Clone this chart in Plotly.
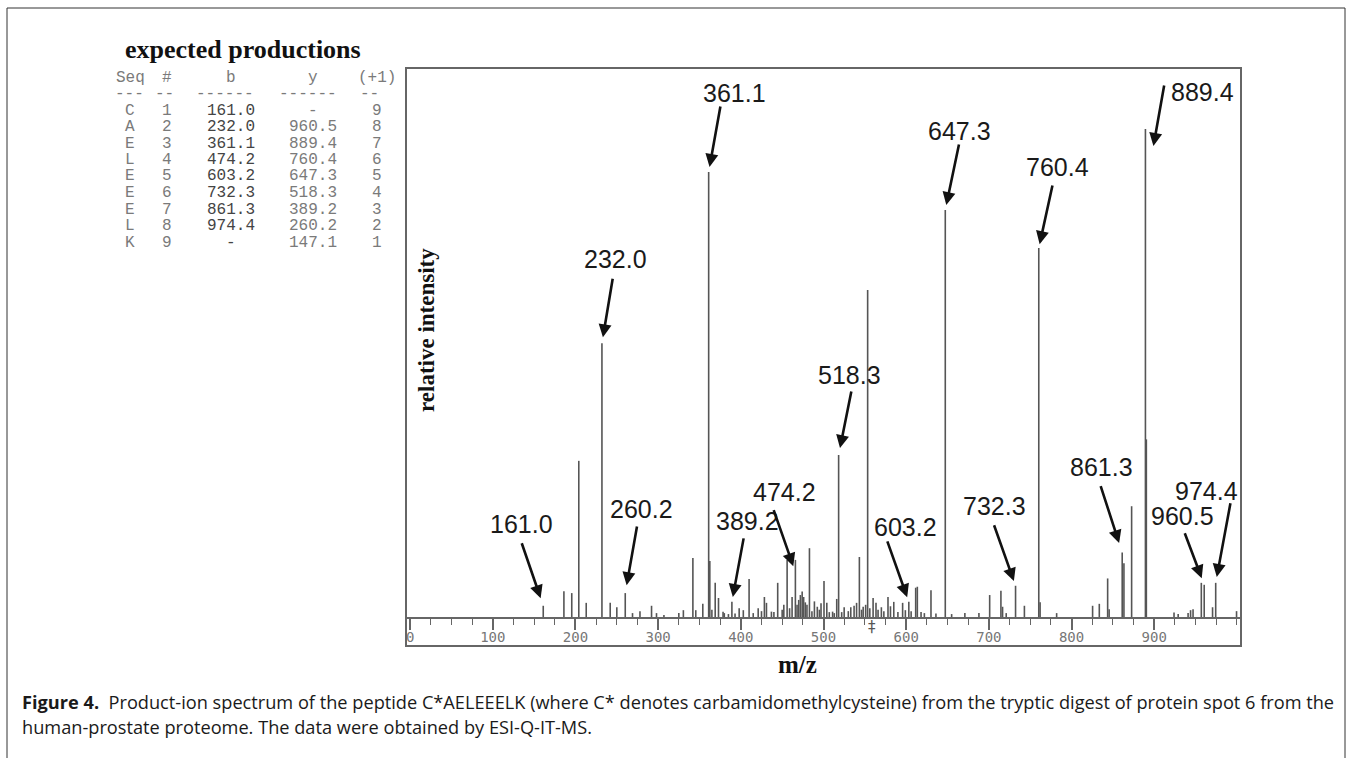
import plotly.graph_objects as go

# ---------------- data ----------------
peak_mz = [161.0, 186.0, 195.5, 204.0, 213.0, 232.0, 242.0, 250.0, 260.2, 269.0,
           278.0, 292.0, 298.0, 307.0, 325.0, 330.5, 342.0, 345.5, 354.0, 361.1,
           362.5, 365.0, 369.0, 373.0, 378.5, 380.0, 385.0, 389.2, 393.0, 398.0,
           403.0, 410.0, 415.0, 421.0, 425.0, 428.5, 431.0, 437.0, 440.0, 444.6,
           450.0, 452.0, 456.0, 459.0, 462.0, 466.0, 468.0, 470.0, 472.0, 474.2,
           476.0, 478.0, 480.0, 483.0, 486.0, 489.0, 492.5, 495.0, 497.0, 500.6,
           504.0, 507.0, 511.0, 513.0, 516.0, 518.3, 522.0, 525.0, 530.0, 533.0,
           537.0, 540.0, 543.4, 546.0, 548.0, 551.0, 553.4, 556.0, 560.0, 563.5,
           566.0, 570.0, 573.0, 578.0, 581.0, 585.0, 590.0, 595.7, 599.0, 603.2,
           606.0, 611.5, 613.5, 618.0, 622.0, 630.0, 636.0, 647.3, 655.0, 671.0,
           688.0, 701.0, 714.6, 716.6, 721.0, 732.3, 743.0, 760.4, 762.0, 782.0,
           825.5, 833.6, 843.7, 845.5, 861.3, 863.4, 872.7, 889.4, 890.5, 924.0,
           929.0, 941.0, 944.0, 947.0, 957.0, 960.5, 970.6, 974.4, 999.6]
peak_int = [2.3, 5.3, 4.9, 32.0, 2.9, 56.1, 2.9, 2.0, 4.9, 0.8,
            1.2, 2.3, 0.8, 0.4, 0.8, 1.4, 12.1, 1.4, 2.7, 91.2,
            11.5, 1.5, 7.0, 3.9, 1.1, 0.8, 0.6, 3.1, 0.7, 1.8,
            1.4, 7.8, 0.8, 1.8, 1.2, 4.1, 2.9, 1.1, 1.0, 7.0,
            1.5, 2.5, 11.7, 1.8, 4.1, 11.7, 2.5, 3.5, 4.5, 5.2,
            4.1, 3.0, 2.5, 14.1, 1.2, 3.2, 2.1, 1.5, 2.8, 7.4,
            2.9, 1.0, 1.1, 0.8, 3.7, 33.2, 1.0, 2.0, 1.2, 2.0,
            2.3, 2.9, 12.3, 1.5, 2.1, 2.5, 67.0, 1.8, 3.9, 2.9,
            1.5, 2.0, 1.2, 4.1, 2.2, 3.1, 1.0, 2.9, 1.4, 3.1,
            1.2, 6.0, 6.2, 1.0, 0.8, 5.5, 0.7, 83.4, 0.6, 0.8,
            0.8, 4.5, 5.4, 2.1, 0.8, 6.4, 2.3, 75.6, 3.0, 0.8,
            2.3, 2.7, 7.9, 1.6, 13.2, 11.0, 22.7, 100.0, 36.4, 0.9,
            0.6, 0.8, 1.4, 1.6, 7.0, 6.6, 2.0, 7.0, 1.2]

label_mz = [161.0, 232.0, 260.2, 361.1, 389.2, 474.2, 518.3, 603.2,
            647.3, 732.3, 760.4, 861.3, 889.4, 960.5, 974.4]
label_text = ["161.0", "232.0", "260.2", "361.1", "389.2", "474.2", "518.3", "603.2",
              "647.3", "732.3", "760.4", "861.3", "889.4", "960.5", "974.4"]

precursor_mz = 558.5

table_seq = ["C", "A", "E", "L", "E", "E", "E", "L", "K"]
table_num = ["1", "2", "3", "4", "5", "6", "7", "8", "9"]
table_b = ["161.0", "232.0", "361.1", "474.2", "603.2", "732.3", "861.3", "974.4", "-"]
table_y = ["-", "960.5", "889.4", "760.4", "647.3", "518.3", "389.2", "260.2", "147.1"]
table_charge = ["9", "8", "7", "6", "5", "4", "3", "2", "1"]
table_header = ["Seq", "#", "b", "y", "(+1)"]
table_rule = ["---", "--", "------", "------", "--"]

xtick_vals = [0, 100, 200, 300, 400, 500, 600, 700, 800, 900]
xtick_text = [str(v) for v in xtick_vals]

caption_1 = ("<b>Figure 4.</b>\u00a0 Product-ion spectrum of the peptide C*AELEEELK (where C* denotes "
             "carbamidomethylcysteine) from the tryptic digest of protein spot 6 from the")
caption_2 = "human-prostate proteome. The data were obtained by ESI-Q-IT-MS."

# ---------------- layout geometry (pixels) ----------------
W, H = 1348, 758
L, R, T, B = 406, 1241, 68, 617


def px(x):
    return (x - L) / (R - L)


def py(y):
    return (B - y) / (B - T)


# label placement offsets (px): text (xshift, yshift), arrow (ax, ay, standoff, head xshift, head yshift)
label_style = {
    "161.0": (-22, 82, -22, -64, 8, 0, 0),
    "232.0": (14, 84, 11, -66, 6, 0, 0),
    "260.2": (16, 84, 12, -68, 8, 0, 0),
    "361.1": (26, 79, 12, -67, 5, 0, 0),
    "389.2": (16, 81, 12, -65, 5, 0, 0),
    "474.2": (-18, 100, -29, -83, 27, 0, 0),
    "518.3": (11, 80, 13, -65, 7, 0, 0),
    "603.2": (-3, 75, -22, -62, 5, 0, 0),
    "647.3": (14, 79, 14, -67, 5, 0, 0),
    "732.3": (-21, 80, -22, -62, 5, 0, 0),
    "760.4": (19, 81, 14, -64, 4, 0, 0),
    "861.3": (-21, 86, -22, -68, 10, 0, 0),
    "889.4": (57, 37, 11, -62, 0, 8, -17),
    "960.5": (-22, 69, -20, -53, 7, 0, 0),
    "974.4": (-9, 92, 15, -81, 6, 0, 0),
}

# ---------------- figure ----------------
xs, ys = [], []
for m, v in zip(peak_mz, peak_int):
    xs += [m, m, None]
    ys += [0, v, None]

fig = go.Figure()
fig.add_trace(go.Scatter(x=xs, y=ys, mode="lines",
                         line=dict(color="#555555", width=1.6),
                         hoverinfo="skip", showlegend=False))

annotations = []


def note(x, y, text, font, xref="paper", yref="paper", xanchor="center", **kw):
    d = dict(x=x, y=y, xref=xref, yref=yref, text=text, showarrow=False,
             xanchor=xanchor, yanchor="middle", font=font)
    d.update(kw)
    annotations.append(d)


lookup = dict(zip(peak_mz, peak_int))
label_font = dict(family="Liberation Sans, Arial", size=25, color="#1a1a1a")
for m, txt in zip(label_mz, label_text):
    v = lookup[m]
    tx, ty, ax, ay, so, hx, hy = label_style[txt]
    annotations.append(dict(x=m, y=v, xref="x", yref="y", text="", showarrow=True,
                            ax=ax, ay=ay, standoff=so, xshift=hx, yshift=hy,
                            arrowhead=2, arrowsize=1.0, arrowwidth=2.6,
                            arrowcolor="#111111"))
    note(m, v, txt, label_font, xref="x", yref="y", xshift=tx, yshift=ty)

# precursor mark
note(precursor_mz, py(627), "\u2021", dict(family="DejaVu Sans", size=15, color="#555555"),
     xref="x")

# axis titles
serif = "Liberation Serif, Times New Roman, serif"
note(px(426), py(330), "<b>relative intensity</b>", dict(family=serif, size=23, color="#111111"),
     textangle=-90)
note(px(797), py(664), "<b>m/z</b>", dict(family=serif, size=25, color="#111111"))
note(px(243), py(50), "<b>expected productions</b>", dict(family=serif, size=26, color="#111111"))

# table
col_x = [130, 167, 231, 313, 377]
rule_x = [129, 165, 225, 307.5, 369]
mono = "Liberation Mono, Courier New, monospace"
tfont = dict(family=mono, size=16, color="#7a7a7a")
bfont = dict(family=mono, size=16, color="#444444")
for cx, h in zip(col_x, table_header):
    note(px(cx), py(78), h, tfont)
for cx, h in zip(rule_x, table_rule):
    note(px(cx), py(94.5), h, tfont)
for i in range(len(table_seq)):
    yy = 110.5 + 16.5 * i
    row = [table_seq[i], table_num[i], table_b[i], table_y[i], table_charge[i]]
    for j, (cx, s) in enumerate(zip(col_x, row)):
        note(px(cx), py(yy), s, bfont if j == 2 else tfont)

# caption
cap_font = dict(family="Open Sans, Noto Sans, sans-serif", size=18.2, color="#1a1a1a")
note(px(20), py(702), caption_1, cap_font, xanchor="left")
note(px(20), py(727), caption_2, cap_font, xanchor="left")

shapes = [
    dict(type="rect", xref="paper", yref="paper", x0=px(406), x1=px(1241),
         y0=py(646), y1=py(68), line=dict(color="#666666", width=2)),
    dict(type="line", xref="paper", yref="paper", x0=px(7), x1=px(7), y0=py(8), y1=py(758),
         line=dict(color="#333333", width=1)),
    dict(type="line", xref="paper", yref="paper", x0=px(7), x1=px(1345), y0=py(8), y1=py(8),
         line=dict(color="#333333", width=1)),
    dict(type="line", xref="paper", yref="paper", x0=px(1345), x1=px(1345), y0=py(8), y1=py(758),
         line=dict(color="#333333", width=1)),
]

fig.update_layout(
    width=W, height=H,
    margin=dict(l=L, r=W - R, t=T, b=H - B, pad=0),
    paper_bgcolor="white", plot_bgcolor="white",
    showlegend=False,
    annotations=annotations,
    shapes=shapes,
    xaxis=dict(range=[-5, 1005], showgrid=False, zeroline=False,
               showline=True, linecolor="#666666", linewidth=1.5,
               ticks="outside", ticklen=11, tickwidth=1.5, tickcolor="#666666",
               tickmode="array", tickvals=xtick_vals, ticktext=xtick_text,
               ticklabelstandoff=-5,
               tickfont=dict(family="DejaVu Sans Mono, monospace", size=14, color="#777777"),
               minor=dict(tickmode="linear", tick0=0, dtick=25, ticks="outside",
                          ticklen=6, tickwidth=1.2, tickcolor="#666666", showgrid=False),
               fixedrange=True),
    yaxis=dict(range=[0, 112.5], visible=False, fixedrange=True),
)

fig.write_html("out.html", config={"displayModeBar": False},
               post_script="document.body.style.margin='0';document.body.style.overflow='hidden';")
